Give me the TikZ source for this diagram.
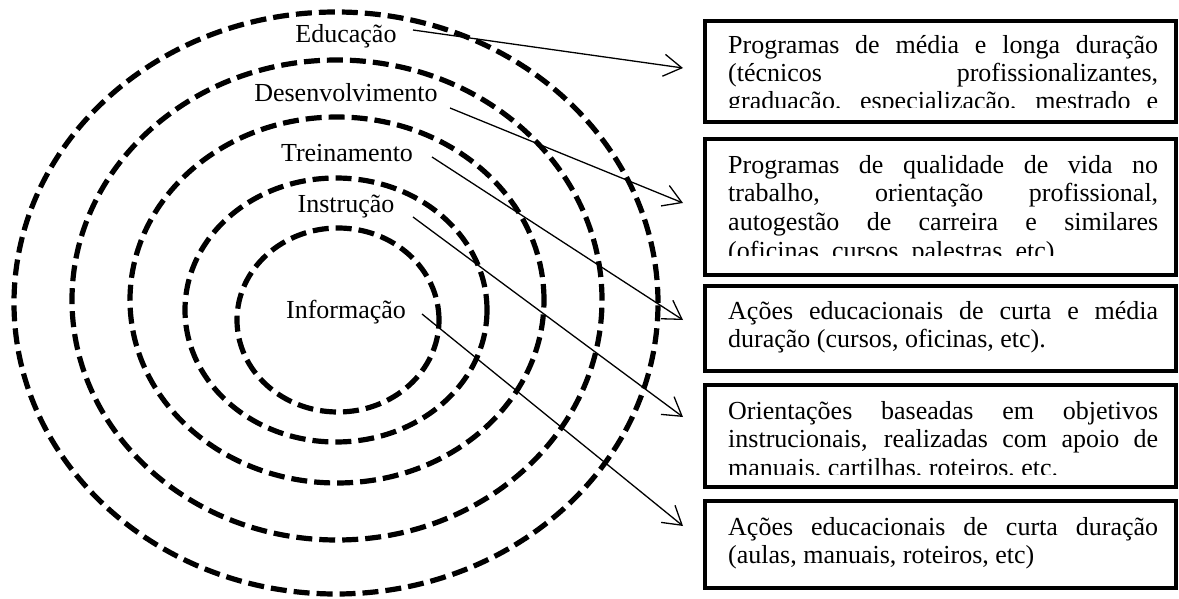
\documentclass[tikz,border=0pt]{standalone}
\usepackage{fontspec}
\setmainfont{Liberation Serif}
\usetikzlibrary{arrows.meta}
\newcommand\jline[1]{\makebox[430pt][s]{#1}}
\tikzset{
  ring/.style={line width=5.2pt, dash pattern=on 16pt off 7pt},
  lbl/.style={anchor=base, inner sep=0pt, font=\fontsize{26}{28}\selectfont},
  txt/.style={anchor=base west, inner sep=0pt, font=\fontsize{26}{28}\selectfont},
  boxframe/.style={draw, line width=4.2pt, minimum width=471pt, inner sep=0pt},
  conn/.style={line width=1.3pt, -{Straight Barb[length=18pt,width=22pt]}}
}
\begin{document}
\begin{tikzpicture}[x=1pt,y=-1pt]
\useasboundingbox (0,0) rectangle (1179,599);
\fill[white] (0,0) rectangle (1179,599);

% rings
\draw[ring] (336,303) ellipse [x radius=322pt, y radius=291pt];
\draw[ring] (337,300) ellipse [x radius=265pt, y radius=240pt];
\draw[ring] (337,300) ellipse [x radius=207pt, y radius=183pt];
\draw[ring] (336,310) ellipse [x radius=151pt, y radius=132pt];
\draw[ring] (338,320) ellipse [x radius=101pt, y radius=92pt];

% labels
\node[lbl] (edu) at (346,43) {Educação};
\node[lbl] (des) at (346,102) {Desenvolvimento};
\node[lbl] (tre) at (347,162) {Treinamento};
\node[lbl] (ins) at (346,213) {Instrução};
\node[lbl] (inf) at (346,318) {Informação};

% boxes
\node[boxframe, minimum height=101pt] (box1) at (940.5,71.5) {};
\node[boxframe, minimum height=136pt] (box2) at (940.5,207) {};
\node[boxframe, minimum height=85pt] (box3) at (940.5,328.5) {};
\node[boxframe, minimum height=102pt] (box4) at (940.5,436) {};
\node[boxframe, minimum height=87pt] (box5) at (940.5,544.5) {};

\begin{scope}
\clip (707,23) rectangle (1174,107.5);
\node[txt] (b1a) at (728,53.5) {\jline{Programas de média e longa duração}};
\node[txt] (b1b) at (728,81.5) {\jline{(técnicos profissionalizantes,}};
\node[txt] (b1c) at (728,109.5) {\jline{graduação, especialização, mestrado e}};
\end{scope}

\begin{scope}
\clip (707,141) rectangle (1174,255);
\node[txt] (b2a) at (728,174) {\jline{Programas de qualidade de vida no}};
\node[txt] (b2b) at (728,202) {\jline{trabalho, orientação profissional,}};
\node[txt] (b2c) at (728,230) {\jline{autogestão de carreira e similares}};
\node[txt] (b2d) at (728,259) {(oficinas, cursos, palestras, etc)};
\end{scope}

\node[txt] (b3a) at (728,319) {\jline{Ações educacionais de curta e média}};
\node[txt] (b3b) at (728,347) {duração (cursos, oficinas, etc).};

\begin{scope}
\clip (707,387) rectangle (1174,474);
\node[txt] (b4a) at (728,419) {\jline{Orientações baseadas em objetivos}};
\node[txt] (b4b) at (728,447) {\jline{instrucionais, realizadas com apoio de}};
\node[txt] (b4c) at (728,476) {manuais, cartilhas, roteiros, etc.};
\end{scope}

\node[txt] (b5a) at (728,535) {\jline{Ações educacionais de curta duração}};
\node[txt] (b5b) at (728,563) {(aulas, manuais, roteiros, etc)};

% connectors
\coordinate (s1) at (413,30);
\coordinate (s2) at (450,108);
\coordinate (s3) at (432,157);
\coordinate (s4) at (413,217);
\coordinate (s5) at (422,314);
\coordinate (t1) at (683,68);
\coordinate (t2) at (683,203);
\coordinate (t3) at (683,320);
\coordinate (t4) at (683,417);
\coordinate (t5) at (683,526);
\draw[conn] (s1) -- (t1);
\draw[conn] (s2) -- (t2);
\draw[conn] (s3) -- (t3);
\draw[conn] (s4) -- (t4);
\draw[conn] (s5) -- (t5);
\end{tikzpicture}
\end{document}
